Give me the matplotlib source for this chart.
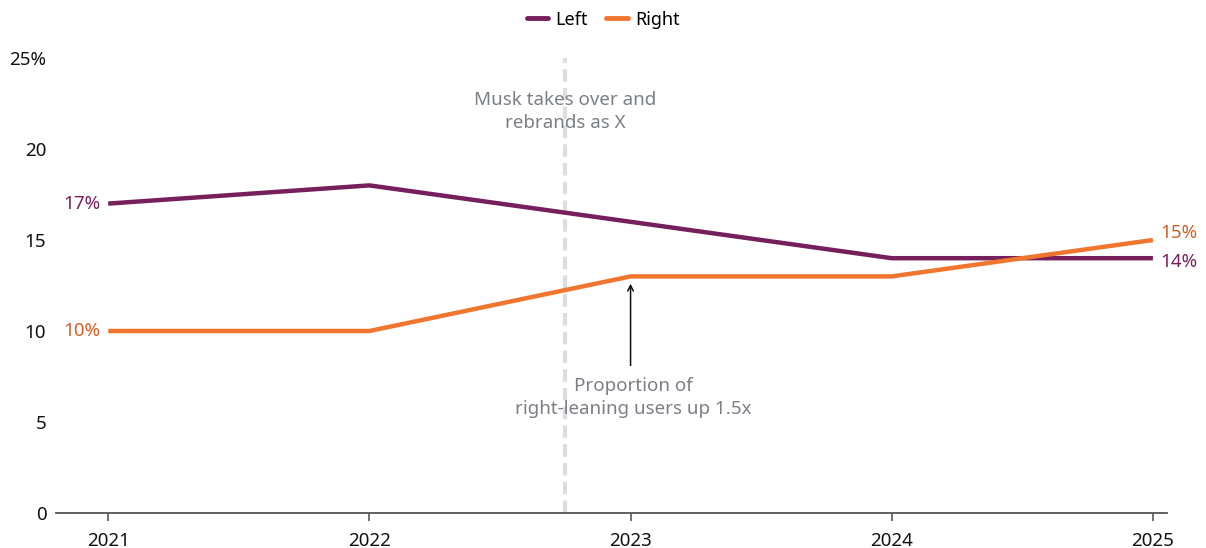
import matplotlib.pyplot as plt

plt.rcParams['font.family'] = ['Noto Sans', 'DejaVu Sans']

years = [2021, 2022, 2023, 2024, 2025]
left = [17, 18, 16, 14, 14]
right = [10, 10, 13, 13, 15]
yticks = [0, 5, 10, 15, 20, 25]
ytick_labels = ['0', '5', '10', '15', '20', '25%']
event_x = 2022.75

c_left = '#761f5d'
c_right = '#f0762f'
c_right_txt = '#d65f26'
grey = '#7b7f87'

fig = plt.figure(figsize=(12.06, 5.48), dpi=100)
ax = fig.add_axes([56 / 1206, 35 / 548, (1167 - 56) / 1206, (513 - 58) / 548])

ax.axvline(event_x, color='#dddddd', lw=3, ls=(0, (3, 1.5)), zorder=1)
ax.plot(years, left, color=c_left, lw=3.2, label='Left', solid_capstyle='butt', zorder=3)
ax.plot(years, right, color=c_right, lw=3.2, label='Right', solid_capstyle='butt', zorder=3)

ax.set_xlim(2020.8, 2025.054)
ax.set_ylim(0, 25)
ax.set_xticks(years)
ax.set_xticklabels([str(y) for y in years])
ax.set_yticks(yticks)
ax.set_yticklabels(ytick_labels)

for s in ['top', 'right', 'left']:
    ax.spines[s].set_visible(False)
ax.spines['bottom'].set_color('#555555')
ax.spines['bottom'].set_linewidth(1.3)
ax.tick_params(axis='y', length=0, pad=7, labelsize=13.5, labelcolor='#111111')
ax.tick_params(axis='x', length=6, width=1.3, color='#666666', pad=8, labelsize=13.5, labelcolor='#111111')

# end labels
ax.text(years[0] - 0.03, left[0], f'{left[0]}%', color=c_left, fontsize=13.5, ha='right', va='center')
ax.text(years[0] - 0.03, right[0], f'{right[0]}%', color=c_right_txt, fontsize=13.5, ha='right', va='center')
ax.text(years[-1] + 0.03, left[-1] - 0.2, f'{left[-1]}%', color=c_left, fontsize=13.5, ha='left', va='center', clip_on=False)
ax.text(years[-1] + 0.03, right[-1] + 0.4, f'{right[-1]}%', color=c_right_txt, fontsize=13.5, ha='left', va='center', clip_on=False)

ax.text(event_x, 22.05, 'Musk takes over and\nrebrands as X', color=grey, fontsize=13.5,
        ha='center', va='center', linespacing=1.4)
ax.annotate('', xy=(2023, 12.75), xytext=(2023, 7.95),
            arrowprops=dict(arrowstyle='->', color='#111111', lw=1.1))
ax.text(2023.01, 6.35, 'Proportion of\nright-leaning users up 1.5x', color=grey, fontsize=13.5,
        ha='center', va='center', linespacing=1.4)

leg = fig.legend(loc='upper center', bbox_to_anchor=(0.5, 1.01), ncol=2, frameon=False,
                 fontsize=13, handlelength=1.2, handletextpad=0.4, columnspacing=1.0)
for h in leg.legend_handles:
    h.set_linewidth(3.5)
    h.set_solid_capstyle('round')

fig.savefig('out.png', dpi=100)
